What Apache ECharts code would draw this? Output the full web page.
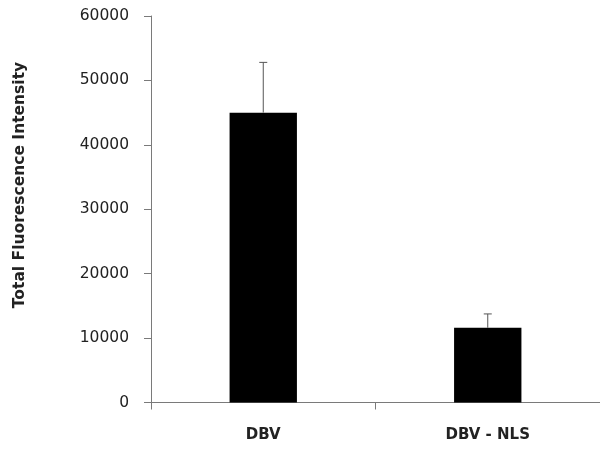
<!DOCTYPE html>
<html>
<head>
<meta charset="utf-8">
<script src="https://cdn.jsdelivr.net/npm/echarts@6/dist/echarts.min.js"></script>
<style>html,body{margin:0;padding:0;background:#fff}#c{width:600px;height:449px}</style>
</head>
<body>
<div id="c"></div>
<script>
var categories = ['DBV', 'DBV - NLS'];
var means = [45000, 11600];
var errors = [7800, 2150];
var yTicks = [0, 10000, 20000, 30000, 40000, 50000, 60000];
var yTitle = 'Total Fluorescence Intensity';

var chart = echarts.init(document.getElementById('c'), null, {renderer: 'canvas'});
var errData = categories.map(function (c, i) { return [i, means[i], means[i] + errors[i]]; });

chart.setOption({
  animation: false,
  backgroundColor: '#fff',
  grid: {left: 151, top: 16, bottom: 46.5, right: -3, containLabel: false},
  xAxis: {
    type: 'category',
    data: categories,
    axisLine: {lineStyle: {color: '#7a7a7a', width: 1}},
    axisTick: {show: true, alignWithLabel: false, length: 7, lineStyle: {color: '#7a7a7a'}},
    axisLabel: {margin: 25, color: '#222', fontFamily: 'DejaVu Sans', fontWeight: 'bold', fontSize: 15}
  },
  yAxis: {
    type: 'value',
    min: yTicks[0],
    max: yTicks[yTicks.length - 1],
    interval: 10000,
    axisLine: {show: true, lineStyle: {color: '#7a7a7a', width: 1}},
    axisTick: {show: true, length: 7, lineStyle: {color: '#7a7a7a'}},
    splitLine: {show: false},
    axisLabel: {margin: 22, color: '#222', fontFamily: 'DejaVu Sans', fontSize: 15.5,
      formatter: function (v) { return String(v); }}
  },
  graphic: [{
    type: 'text',
    x: 20, y: 185,
    rotation: Math.PI / 2,
    style: {
      text: yTitle,
      fill: '#222',
      font: 'bold 15.5px "DejaVu Sans"',
      textAlign: 'center',
      textVerticalAlign: 'middle'
    }
  }],
  series: [{
    type: 'bar',
    data: means,
    barWidth: '30%',
    itemStyle: {color: '#000'},
    z: 2
  }, {
    type: 'custom',
    data: errData,
    z: 3,
    renderItem: function (params, api) {
      var x = api.value(0);
      var p0 = api.coord([x, api.value(1)]);
      var p1 = api.coord([x, api.value(2)]);
      var hw = 4;
      var st = {stroke: '#555', lineWidth: 1};
      return {
        type: 'group',
        children: [
          {type: 'line', shape: {x1: p0[0], y1: p0[1], x2: p1[0], y2: p1[1]}, style: st},
          {type: 'line', shape: {x1: p1[0] - hw, y1: p1[1], x2: p1[0] + hw, y2: p1[1]}, style: st}
        ]
      };
    }
  }]
});
</script>
</body>
</html>
